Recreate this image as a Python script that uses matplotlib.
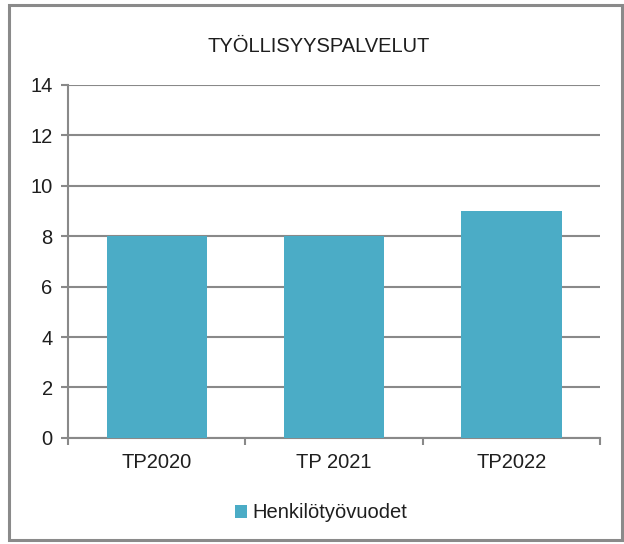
import matplotlib.pyplot as plt
from matplotlib.patches import Rectangle

plt.rcParams['font.family'] = ['Liberation Sans', 'DejaVu Sans']

# Data
categories = ['TP2020', 'TP 2021', 'TP2022']
henkilotyovuodet = [8, 8, 9]
y_ticks = [0, 2, 4, 6, 8, 10, 12, 14]

grid_col = '#898989'
bar_col = '#4BACC6'
txt_col = '#1e1e1e'
fs = 14.5

fig = plt.figure(figsize=(6.24, 5.44), dpi=100)
ax = fig.add_axes([0.109, 0.195, 0.853, 0.649])

x = list(range(len(categories)))
ax.bar(x, henkilotyovuodet, width=0.565, color=bar_col, label='Henkilötyövuodet', zorder=3)

ax.set_xlim(-0.5, len(categories) - 0.5)
ax.set_ylim(0, 14)
ax.set_yticks(y_ticks)
ax.set_yticklabels([str(v) for v in y_ticks])
ax.yaxis.grid(True, color=grid_col, linewidth=1.5, zorder=0)

# x ticks at category boundaries, labels at centres
ax.set_xticks([i - 0.5 for i in range(len(categories) + 1)])
ax.set_xticklabels([])
ax.set_xticks(x, minor=True)
ax.set_xticklabels(categories, minor=True)
ax.tick_params(axis='x', which='minor', length=0, pad=11, labelsize=fs, labelcolor=txt_col)
ax.tick_params(axis='x', which='major', length=5, width=1.5, color=grid_col)
ax.tick_params(axis='y', length=5, width=1.5, color=grid_col, pad=6, labelsize=fs, labelcolor=txt_col)

for s in ['top', 'right']:
    ax.spines[s].set_visible(False)
for s in ['left', 'bottom']:
    ax.spines[s].set_color(grid_col)
    ax.spines[s].set_linewidth(1.5)

fig.text(0.51, 0.915, 'TYÖLLISYYSPALVELUT', ha='center', va='center', fontsize=fs, color=txt_col)

fig.legend(loc='center', bbox_to_anchor=(0.515, 0.057), frameon=False, fontsize=fs,
           handlelength=0.6, handleheight=0.6, handletextpad=0.25, labelcolor=txt_col)

# outer chart border
fig.patches.append(Rectangle((9 / 624, 4 / 544), 613 / 624, 535 / 544, transform=fig.transFigure,
                             fill=False, edgecolor='#8a8a8a', linewidth=2.2))

fig.savefig('out.png', dpi=100)
